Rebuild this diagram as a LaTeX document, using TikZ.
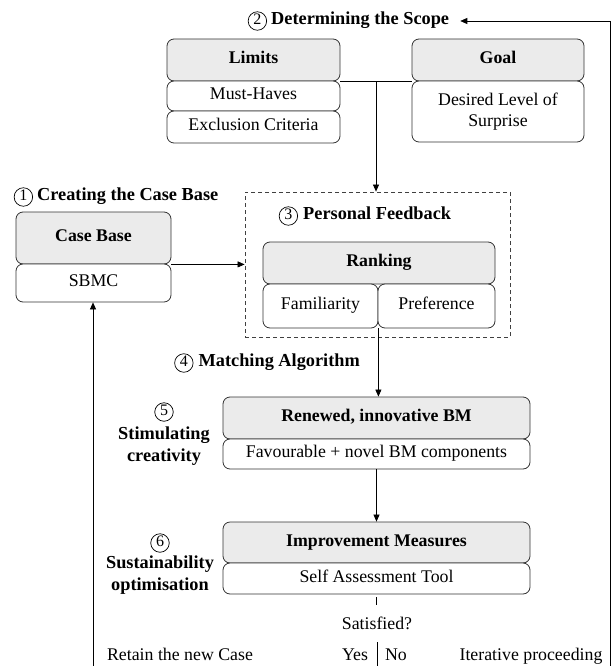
\documentclass[tikz,border=0pt]{standalone}
\usepackage{fontspec}
\setmainfont{Liberation Serif}
\usetikzlibrary{arrows.meta,positioning,calc}
\begin{document}
\begin{tikzpicture}[x=1pt,y=-1pt,
  every node/.style={inner sep=0pt},
  txt/.style={font=\fontsize{17.8}{21}\selectfont, text height=0.9em, text depth=0.12em},
  mtxt/.style={font=\fontsize{17.8}{21}\selectfont, align=center},
  hdr/.style={txt, draw=black!80, line width=0.8pt, rounded corners=7pt, fill=gray!16, font=\fontsize{17.8}{21}\selectfont\bfseries},
  sub/.style={txt, draw=black!80, line width=0.8pt, rounded corners=7pt, fill=white},
  msub/.style={mtxt, draw=black!80, line width=0.8pt, rounded corners=7pt, fill=white},
  numc/.style={circle, draw=black, line width=0.7pt, minimum size=18.5pt, inner sep=0pt, font=\fontsize{16}{16}\selectfont, text height=0.66em, text depth=0pt},
  ttl/.style={txt, font=\fontsize{18.3}{21}\selectfont\bfseries},
  mttl/.style={mtxt, font=\fontsize{18.3}{21.5}\selectfont\bfseries},
  arr/.style={-{Triangle[length=7pt,width=6pt]}, line width=0.7pt},
  ln/.style={line width=0.7pt}
]
\useasboundingbox (0,0) rectangle (614,666);

% --- Determining the scope
\node[ttl, anchor=west] (title2) at (271,21) {Determining the Scope};
\node[numc, left=4pt of title2] (c2) {2};
\node[hdr, minimum width=173pt, minimum height=42pt] (limits) at (253.5,60) {Limits};
\node[sub, minimum width=173pt, minimum height=30pt] (must) at (253.5,96) {Must-Haves};
\node[sub, minimum width=173pt, minimum height=32pt] (excl) at (253.5,127) {Exclusion Criteria};
\node[hdr, minimum width=172pt, minimum height=42pt] (goal) at (498,60) {Goal};
\node[msub, minimum width=172pt, minimum height=61pt] (desired) at (498,111.5) {Desired Level of\\Surprise};

% --- Case base
\node[ttl, anchor=west] (title1) at (37,197) {Creating the Case Base};
\node[numc, left=4pt of title1] (c1) {1};
\node[hdr, minimum width=155pt, minimum height=52pt] (casebase) at (93.5,238) {Case Base};
\node[sub, minimum width=155pt, minimum height=38pt] (sbmc) at (93.5,283) {SBMC};

% --- Personal feedback
\node[draw=black!75, dash pattern=on 4pt off 3pt, line width=0.8pt, minimum width=265pt, minimum height=145pt] (fb) at (377.5,264.5) {};
\node[ttl, anchor=west] (title3) at (303,216) {Personal Feedback};
\node[numc, left=5pt of title3] (c3) {3};
\node[hdr, minimum width=232pt, minimum height=42pt] (ranking) at (379,263) {Ranking};
\node[sub, minimum width=115pt, minimum height=44pt] (fam) at (320.5,306) {Familiarity};
\node[sub, minimum width=117pt, minimum height=44pt] (pref) at (436.5,306) {Preference};

% --- Matching
\node[ttl, anchor=east] (title4) at (360,363) {Matching Algorithm};
\node[numc, left=5pt of title4] (c4) {4};

% --- Renewed BM
\node[numc] (c5) at (164,412) {5};
\node[mttl] (lab5) at (164,446) {Stimulating\\creativity};
\node[hdr, minimum width=307pt, minimum height=42pt] (renewed) at (376.5,418) {Renewed, innovative BM};
\node[sub, minimum width=307pt, minimum height=30pt] (fav) at (376.5,454) {Favourable + novel BM components};

% --- Improvement
\node[numc] (c6) at (160,543) {6};
\node[mttl] (lab6) at (160,575) {Sustainability\\optimisation};
\node[hdr, minimum width=307pt, minimum height=41pt] (improv) at (376.5,542.5) {Improvement Measures};
\node[sub, minimum width=307pt, minimum height=31pt] (self) at (376.5,578.5) {Self Assessment Tool};

% --- Decision
\node[txt] (sat) at (377,626) {Satisfied?};
\node[txt] (yes) at (355,657) {Yes};
\node[txt] (no) at (396,657) {No};
\node[txt] (retain) at (180,657) {Retain the new Case};
\node[txt] (iter) at (531,657) {Iterative proceeding};

% --- connectors
\coordinate (mid) at ($(limits.south east)!0.5!(goal.south west)$);
\draw[ln] (limits.south east) -- (goal.south west);
\draw[arr] (mid) -- (mid |- fb.north);
\draw[arr] (casebase.south east) -- (casebase.south east -| fb.west);
\draw[arr] (fam.south east) -- (fam.south east |- renewed.north);
\draw[arr] (fav.south) -- (improv.north);
\coordinate (tickA) at ($(self.south)+(0,3)$);
\coordinate (tickB) at ($(self.south)+(0,11)$);
\draw[ln] (tickA) -- (tickB);
\coordinate (splitT) at (377,642);
\coordinate (splitB) at (377,666);
\draw[ln] (splitT) -- (splitB);
\coordinate (lb) at (93,666);
\draw[arr] (lb) -- (lb |- sbmc.south);
\coordinate (rb) at (610,666);
\coordinate (rt) at (610,21);
\coordinate (tip) at ($(title2.east)+(11,0)$);
\draw[arr] (rb) -- (rt) -- (tip);
\end{tikzpicture}
\end{document}
